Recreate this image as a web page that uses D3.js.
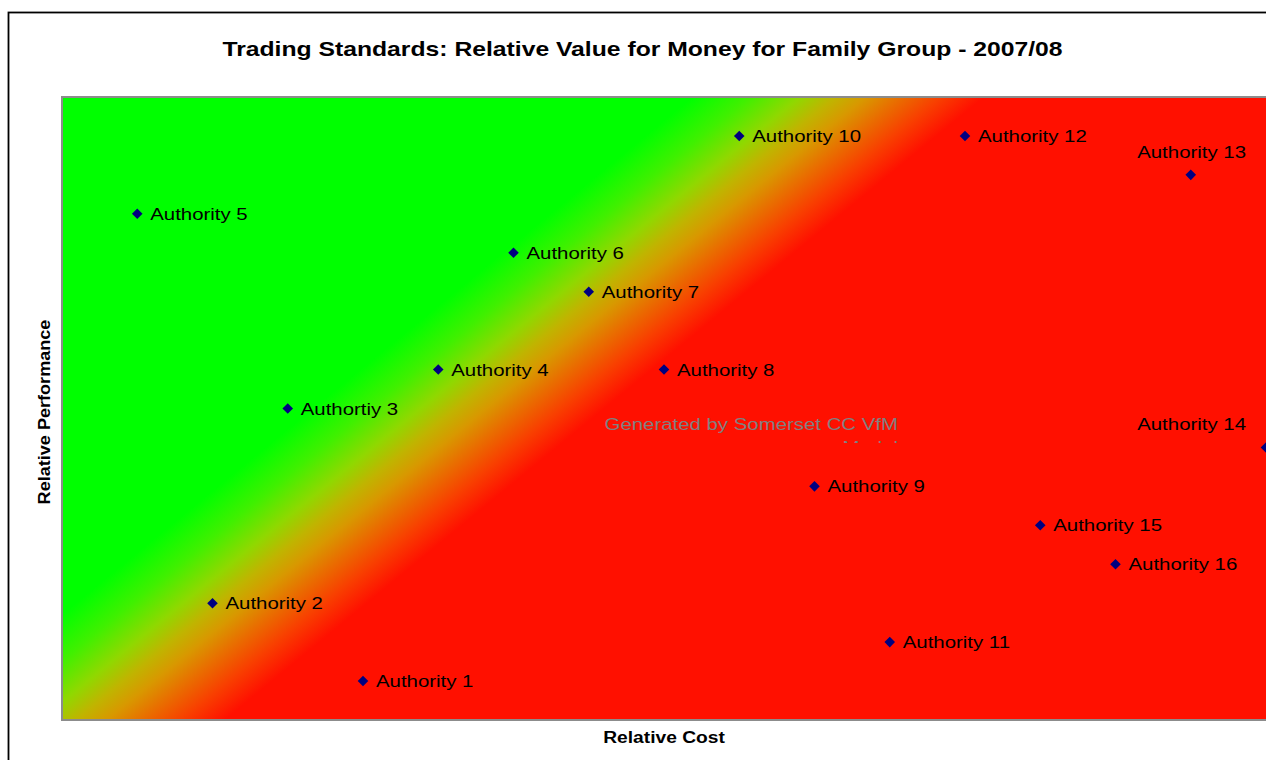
<!DOCTYPE html>
<html>
<head>
<meta charset="utf-8">
<script src="https://cdn.jsdelivr.net/npm/d3@7/dist/d3.min.js"></script>
<style>
  html, body { margin: 0; padding: 0; background: #fff; overflow: hidden; }
  svg { display: block; font-family: "Liberation Sans", Arial, sans-serif; }
</style>
</head>
<body>
<svg id="chart" width="1266" height="760"></svg>
<script>
// ---- data ----
const names = ["Authority 1","Authority 2","Authortiy 3","Authority 4","Authority 5","Authority 6","Authority 7","Authority 8",
               "Authority 9","Authority 10","Authority 11","Authority 12","Authority 13","Authority 14","Authority 15","Authority 16"];
const relCost = [4, 2, 3, 5, 1, 6, 7, 8, 10, 9, 11, 12, 15, 16, 13, 14];
const relPerf = [1, 3, 8, 9, 13, 12, 11, 9, 6, 15, 2, 15, 14, 7, 5, 4];
const labelSide = ["right","right","right","right","right","right","right","right",
                   "right","right","right","right","above","above","right","right"];
const title = "Trading Standards: Relative Value for Money for Family Group - 2007/08";
const xTitle = "Relative Cost";
const yTitle = "Relative Performance";
const watermark = ["Generated by Somerset CC VfM", "Model"];

// ---- layout ----
const svg = d3.select("#chart");
const plot = { left: 62, top: 97, right: 1266, bottom: 720 };
const stretch = 1.2;

const x = d3.scaleLinear().domain([0, 16]).range([plot.left, plot.right]);
const y = d3.scaleLinear().domain([0, 16]).range([plot.bottom, plot.top]);

// outer frame
svg.append("rect").attr("x", 8.5).attr("y", 12.5).attr("width", 1400).attr("height", 900)
  .attr("fill", "#fff").attr("stroke", "#000").attr("stroke-width", 1.8);

// gradient
const defs = svg.append("defs");
const ux = 0.634, uy = 0.773, p0 = 400, p1 = 585;
const grad = defs.append("linearGradient").attr("id", "vfm")
  .attr("gradientUnits", "userSpaceOnUse")
  .attr("x1", plot.left + ux * p0).attr("y1", plot.top + uy * p0)
  .attr("x2", plot.left + ux * p1).attr("y2", plot.top + uy * p1);
[[0, "#00ff00"], [0.195, "#40f000"], [0.368, "#90d800"], [0.49, "#c0b400"], [0.595, "#d89800"],
 [0.708, "#e87000"], [0.85, "#f84000"], [1, "#ff1000"]]
  .forEach(([o, c]) => grad.append("stop").attr("offset", o).attr("stop-color", c));

svg.append("rect").attr("x", plot.left).attr("y", plot.top)
  .attr("width", plot.right - plot.left + 20).attr("height", plot.bottom - plot.top)
  .attr("fill", "url(#vfm)").attr("stroke", "#8c8c8c").attr("stroke-width", 2);

// stretched text helper
function stext(g, tx, ty, str, opts) {
  const t = g.append("text")
    .attr("transform", `translate(${tx},${ty}) scale(${opts.sx || stretch},1)`)
    .attr("text-anchor", opts.anchor || "start")
    .attr("font-size", opts.size)
    .attr("font-weight", opts.weight || "normal")
    .attr("fill", opts.fill || "#000")
    .text(str);
  return t;
}

// title
stext(svg, 642.5, 56, title, { size: 20, weight: "bold", anchor: "middle", sx: 1.236 });
// x axis title
stext(svg, 664, 743, xTitle, { size: 17, weight: "bold", anchor: "middle", sx: 1.13 });
// y axis title (rotated)
svg.append("text")
  .attr("transform", `translate(50,412) rotate(-90) scale(1.13,1)`)
  .attr("text-anchor", "middle").attr("font-size", 16).attr("font-weight", "bold")
  .text(yTitle);

// watermark (second line clipped, as in the original)
defs.append("clipPath").attr("id", "wmclip").append("rect")
  .attr("x", 0).attr("y", 0).attr("width", 1266).attr("height", 443);
const wm = svg.append("g").attr("clip-path", "url(#wmclip)");
watermark.forEach((w, i) => {
  stext(wm, 898, 430 + i * 23, w, { size: 17, anchor: "end", fill: "#808080" });
});

// points
const data = names.map((n, i) => ({ name: n, cost: relCost[i], perf: relPerf[i], side: labelSide[i] }));
const diamond = d3.symbol().type(d3.symbolSquare).size(56);
const pts = svg.append("g");
pts.selectAll("path").data(data).join("path")
  .attr("d", diamond)
  .attr("transform", d => `translate(${x(d.cost)},${y(d.perf)}) rotate(45)`)
  .attr("fill", "#000080");

const labels = svg.append("g");
data.forEach(d => {
  const px = x(d.cost), py = y(d.perf);
  if (d.side === "right") {
    stext(labels, px + 13, py + 6, d.name, { size: 17 });
  } else {
    const t = stext(labels, px, py - 17, d.name, { size: 17, anchor: "middle" });
    const w = t.node().getComputedTextLength() * stretch;
    let cx = px + 3;
    if (cx + w / 2 > plot.right - 20) cx = plot.right - 20 - w / 2;
    t.attr("transform", `translate(${cx},${py - 17}) scale(${stretch},1)`);
  }
});
</script>
</body>
</html>
